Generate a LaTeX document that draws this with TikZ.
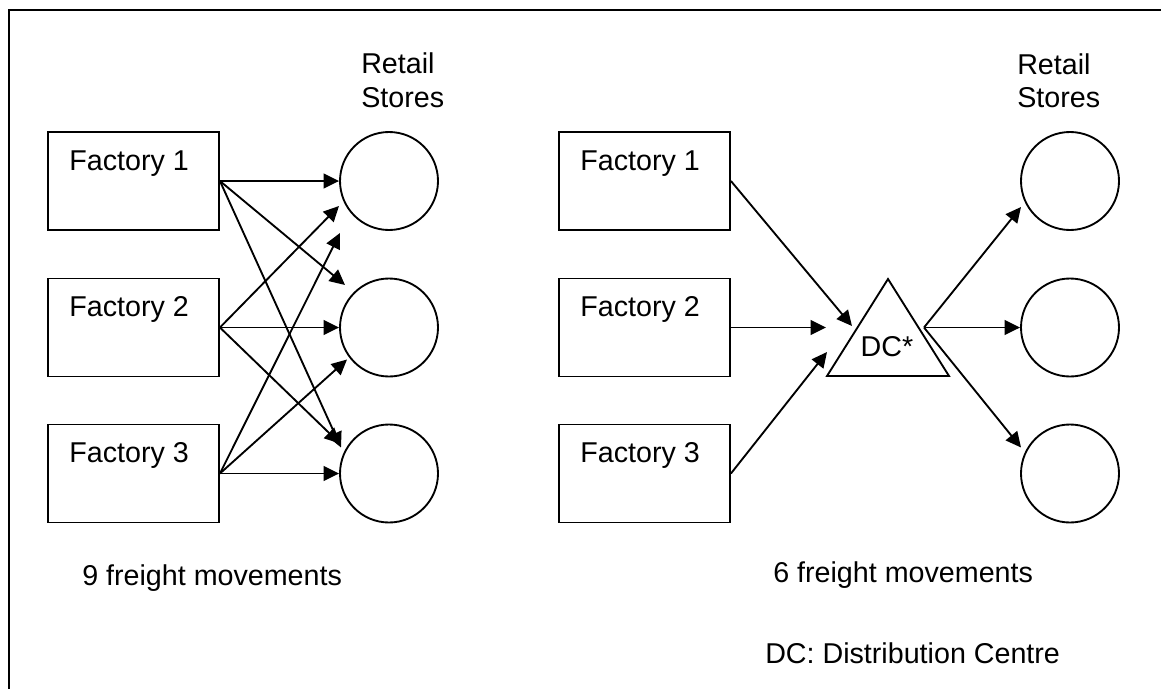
\documentclass[tikz,border=0pt]{standalone}
\usepackage{fontspec}
\setmainfont{Liberation Sans}
\usetikzlibrary{arrows.meta,calc}
\begin{document}
\begin{tikzpicture}[x=0.75pt,y=-0.75pt,
  txt/.style={font=\fontsize{21.5pt}{24.75pt}\selectfont,inner sep=0},
  lbl/.style={txt,anchor=base west},
  fbox/.style={draw,line width=1.4pt,minimum width=128.25pt,minimum height=73.5pt,inner sep=0},
  store/.style={draw,circle,line width=1.4pt,minimum size=73.5pt,inner sep=0},
  flow/.style={line width=1.4pt,-{Triangle[length=11.5pt,width=11pt]}}]
\useasboundingbox (0,0) rectangle (1161,689);

% outer frame (top and left edges)
\draw[line width=1.6pt] (9,689) -- (9,10) -- (1161,10);

% ---------- direct shipping ----------
\node[fbox] (lf1) at (133.5,181) {};
\node[fbox] (lf2) at (133.5,327.5) {};
\node[fbox] (lf3) at (133.5,473.5) {};
\node[lbl] (lf1t) at ($(lf1.north west)+(22,39)$) {Factory 1};
\node[lbl] (lf2t) at ($(lf2.north west)+(22,39)$) {Factory 2};
\node[lbl] (lf3t) at ($(lf3.north west)+(22,39)$) {Factory 3};

\node[store] (lc1) at (389,181) {};
\node[store] (lc2) at (389,327.5) {};
\node[store] (lc3) at (389,473.5) {};
\node[lbl] (lr1) at (361,73) {Retail};
\node[lbl] (lr2) at (361,107) {Stores};

\draw[flow] (lf1.east) -- (lc1.west);
\draw[flow] (lf1.east) -- ($(lc2.center)+(-44,-42.5)$);
\draw[flow] (lf1.east) -- ($(lc3.center)+(-48,-26)$);
\draw[flow] (lf2.east) -- ($(lc1.center)+(-50,25)$);
\draw[flow] (lf2.east) -- (lc2.west);
\draw[flow] (lf2.east) -- ($(lc3.center)+(-49,-30)$);
\draw[flow] (lf3.east) -- ($(lc1.center)+(-49,52)$);
\draw[flow] (lf3.east) -- ($(lc2.center)+(-42,32)$);
\draw[flow] (lf3.east) -- (lc3.west);

\node[lbl] (lcount) at (82,585) {9 freight movements};

% ---------- via distribution centre ----------
\node[fbox] (rf1) at (644.5,181) {};
\node[fbox] (rf2) at (644.5,327.5) {};
\node[fbox] (rf3) at (644.5,473.5) {};
\node[lbl] (rf1t) at ($(rf1.north west)+(22,39)$) {Factory 1};
\node[lbl] (rf2t) at ($(rf2.north west)+(22,39)$) {Factory 2};
\node[lbl] (rf3t) at ($(rf3.north west)+(22,39)$) {Factory 3};

\draw[line width=1.4pt,line join=miter] (888,279) -- (949,376) -- (827,376) -- cycle;
\node[txt,anchor=base] (dc) at (887,356) {DC*};
\coordinate (dcin1) at (852,326);
\coordinate (dcin2) at (826,327.5);
\coordinate (dcin3) at (827,352);
\coordinate (dcout) at (924,327.5);

\node[store] (rc1) at (1070,181) {};
\node[store] (rc2) at (1070,327.5) {};
\node[store] (rc3) at (1070,473.5) {};
\node[lbl] (rr1) at (1017,74) {Retail};
\node[lbl] (rr2) at (1017,107) {Stores};

\draw[flow] (rf1.east) -- (dcin1);
\draw[flow] (rf2.east) -- (dcin2);
\draw[flow] (rf3.east) -- (dcin3);
\draw[flow] (dcout) -- ($(rc1.center)+(-49,26)$);
\draw[flow] (dcout) -- (rc2.west);
\draw[flow] (dcout) -- ($(rc3.center)+(-49,-26)$);

\node[lbl] (rcount) at (773,582) {6 freight movements};
\node[lbl] (legend) at (765,663) {DC: Distribution Centre};
\end{tikzpicture}
\end{document}
